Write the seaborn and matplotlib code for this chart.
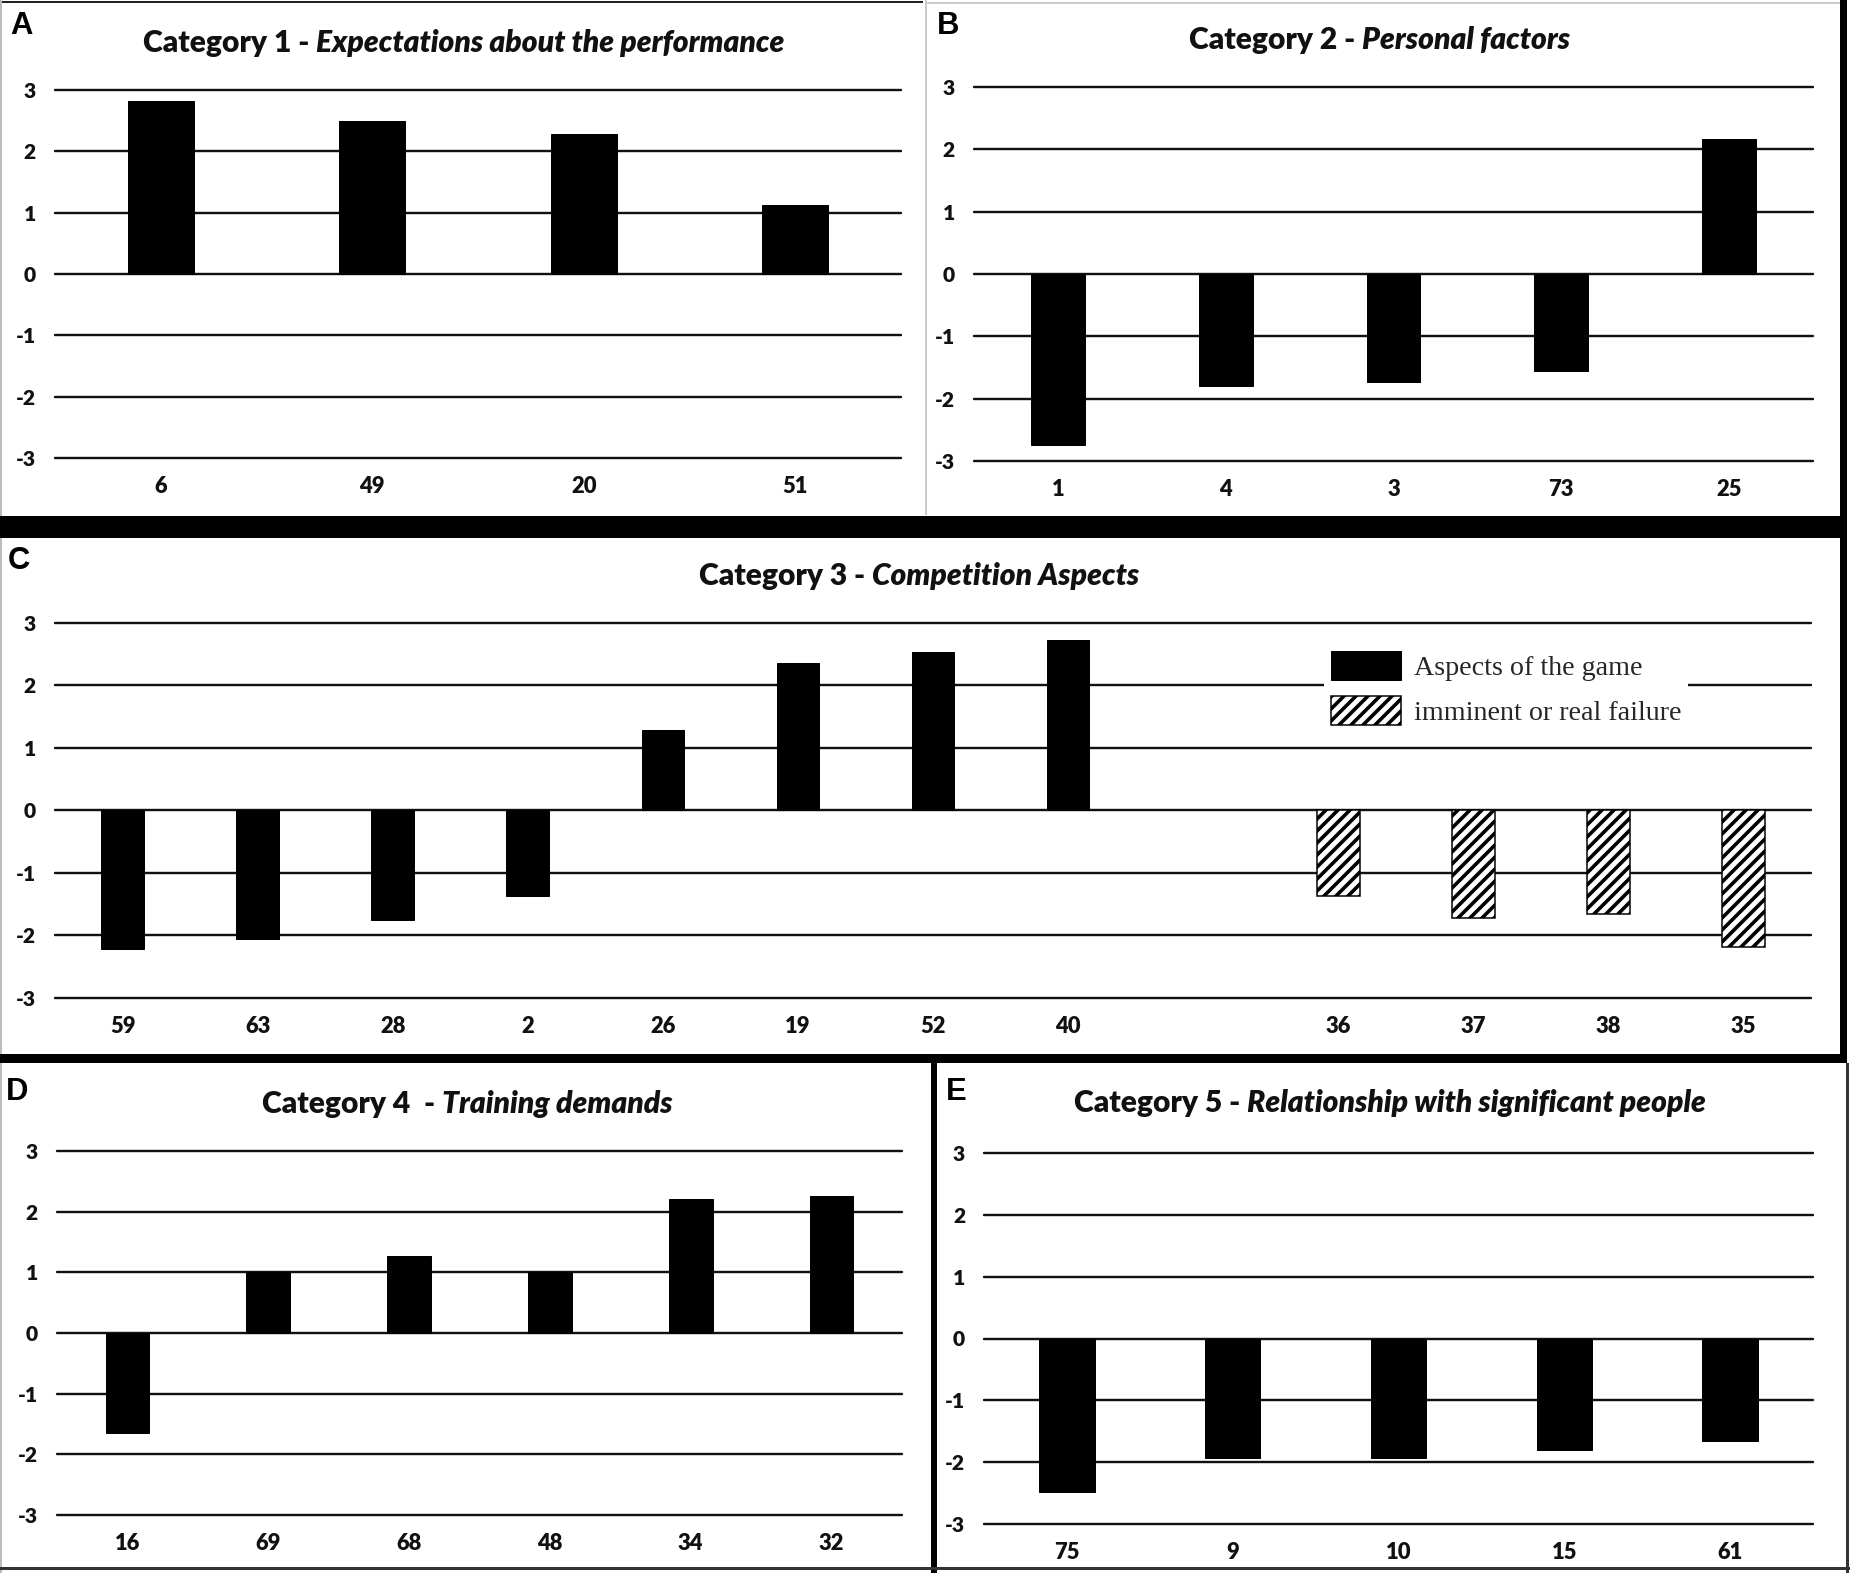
import matplotlib
matplotlib.use("Agg")
import matplotlib.pyplot as plt
from matplotlib.patches import Rectangle, Patch
import pandas as pd
import seaborn as sns

# values (mean scores per item)
cat1_labels = ["6", "49", "20", "51"]
cat1_values = [2.82, 2.49, 2.29, 1.13]

cat2_labels = ["1", "4", "3", "73", "25"]
cat2_values = [-2.74, -1.79, -1.74, -1.56, 2.17]

cat3_game_labels = ["59", "63", "28", "2", "26", "19", "52", "40"]
cat3_game_values = [-2.21, -2.05, -1.76, -1.37, 1.29, 2.36, 2.54, 2.73]
cat3_fail_labels = ["36", "37", "38", "35"]
cat3_fail_values = [-1.37, -1.72, -1.65, -2.19]

cat4_labels = ["16", "69", "68", "48", "34", "32"]
cat4_values = [-1.65, 1.0, 1.27, 1.0, 2.21, 2.26]

cat5_labels = ["75", "9", "10", "15", "61"]
cat5_values = [-2.48, -1.94, -1.94, -1.80, -1.66]

y_ticks = [-3, -2, -1, 0, 1, 2, 3]
legend_labels = ["Aspects of the game", "imminent or real failure"]

W, H, DPI = 1850, 1573, 72

sns.set_theme(style="white")
plt.rcParams["font.family"] = ["Lato", "DejaVu Sans"]
plt.rcParams["axes.unicode_minus"] = False
plt.rcParams["hatch.linewidth"] = 3.6

fig = plt.figure(figsize=(W / DPI, H / DPI), dpi=DPI)
fig.patch.set_facecolor("white")


def add_ax(left, top, right, bottom):
    return fig.add_axes([left / W, 1 - bottom / H, (right - left) / W, (bottom - top) / H])


def frame(x0, y0, x1, y1, color):
    fig.add_artist(Rectangle((x0 / W, 1 - y1 / H), (x1 - x0) / W, (y1 - y0) / H,
                             transform=fig.transFigure, facecolor=color,
                             edgecolor="none", zorder=5))


def style_axis(ax, labels):
    ax.set_ylim(-3, 3)
    ax.set_yticks(y_ticks, labels=[str(t) for t in y_ticks],
                  fontweight="heavy", fontsize=21, color="#111111")
    ax.set_xticks(range(len(labels)), labels=labels,
                  fontweight="heavy", fontsize=22, color="#111111")
    ax.set_axisbelow(True)
    ax.grid(axis="y", color="#111111", linewidth=2.4)
    ax.grid(axis="x", visible=False)
    for gl in ax.yaxis.get_gridlines():
        gl.set_clip_on(False)
    for s in ax.spines.values():
        s.set_visible(False)
    ax.set_xlabel("")
    ax.set_ylabel("")
    ax.tick_params(axis="y", length=0, pad=19)
    ax.tick_params(axis="x", length=0, pad=18)


def title(cx, cy, plain, italic):
    t1 = fig.text(cx / W, 1 - cy / H, plain, fontsize=30, fontweight="heavy",
                  ha="left", va="baseline", color="#111111")
    t2 = fig.text(0, 0, italic, fontsize=30, fontweight="heavy", fontstyle="italic",
                  ha="left", va="baseline", color="#111111")
    r = fig.canvas.get_renderer()
    w1 = t1.get_window_extent(r).width
    w2 = t2.get_window_extent(r).width
    x0 = cx - (w1 + w2) / 2
    base = cy + 10
    t1.set_position((x0 / W, 1 - base / H))
    t2.set_position(((x0 + w1) / W, 1 - base / H))


def letter(x, cy, s):
    fig.text(x / W, 1 - cy / H, s, fontsize=31, fontweight="bold", ha="left", va="center",
             family=["Liberation Sans", "DejaVu Sans"], color="black")


def simple_panel(box, labels, values, width):
    ax = add_ax(*box)
    sns.barplot(x=labels, y=values, order=labels, color="black", saturation=1,
                width=width, errorbar=None, ax=ax)
    for p in ax.patches:
        p.set_edgecolor("black")
    style_axis(ax, labels)
    return ax


# A
simple_panel((55, 90, 901, 458), cat1_labels, cat1_values, 0.31)
title(464, 42, "Category 1 - ", "Expectations about the performance")
letter(10, 26, "A")

# B
simple_panel((974, 87, 1813, 461), cat2_labels, cat2_values, 0.32)
title(1380, 39, "Category 2 - ", "Personal factors")
letter(937, 26, "B")

# C
ax3 = add_ax(55, 623, 1811, 998)
df3 = pd.DataFrame({
    "item": cat3_game_labels + cat3_fail_labels,
    "score": cat3_game_values + cat3_fail_values,
    "group": [legend_labels[0]] * len(cat3_game_labels) + [legend_labels[1]] * len(cat3_fail_labels),
})
order3 = cat3_game_labels + [""] + cat3_fail_labels
sns.barplot(data=df3, x="item", y="score", hue="group", order=order3,
            hue_order=legend_labels, palette=["black", "white"], saturation=1,
            dodge=False, width=0.315, errorbar=None, legend=False, ax=ax3)
for p in ax3.containers[0]:
    p.set_edgecolor("black")
for p in ax3.containers[1]:
    p.set_hatch("//")
    p.set_edgecolor("black")
    p.set_linewidth(1.5)
style_axis(ax3, order3)
handles = [Patch(facecolor="black", edgecolor="black"),
           Patch(facecolor="white", edgecolor="black", hatch="//", linewidth=1.5)]
leg = ax3.legend(handles=handles, labels=legend_labels, loc="upper left",
                 bbox_to_anchor=(1324 / W, 1 - 644 / H), bbox_transform=fig.transFigure,
                 frameon=True, fancybox=False, framealpha=1, facecolor="white",
                 edgecolor="none", borderpad=0.25, borderaxespad=0,
                 handlelength=2.5, handleheight=1.2, handletextpad=0.46,
                 labelspacing=0.55, prop={"family": ["Liberation Serif"], "size": 28})
title(919, 575, "Category 3 - ", "Competition Aspects")
letter(8, 561, "C")

# D
simple_panel((57, 1151, 902, 1515), cat4_labels, cat4_values, 0.31)
title(467, 1103, "Category 4  - ", "Training demands")
letter(6, 1092, "D")

# E
simple_panel((984, 1153, 1813, 1524), cat5_labels, cat5_values, 0.335)
title(1390, 1102, "Category 5 - ", "Relationship with significant people")
letter(946, 1092, "E")

# panel borders
frame(0, 1, 923, 3, "#222222")
frame(925, 0, 927, 515, "#cccccc")
frame(927, 2, 1840, 4, "#cccccc")
frame(0, 0, 2, 1573, "#bbbbbb")
frame(1840, 0, 1847, 1063, "black")
frame(0, 516, 1847, 538, "black")
frame(0, 1054, 1847, 1063, "black")
frame(931, 1063, 937, 1573, "black")
frame(0, 1567, 1850, 1570, "#333333")
frame(1846, 1063, 1849, 1573, "#333333")

fig.savefig("out.png", dpi=DPI, facecolor="white")
